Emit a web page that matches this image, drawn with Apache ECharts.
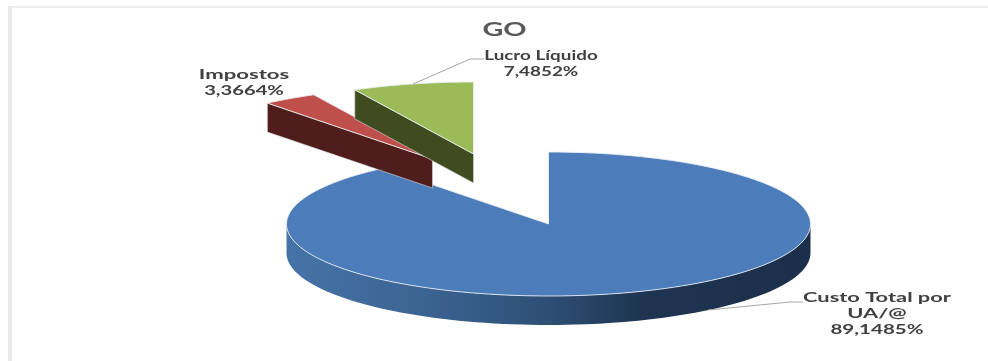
<!DOCTYPE html>
<html>
<head>
<meta charset="utf-8">
<style>html,body{margin:0;padding:0;background:#fff}#chart{width:988px;height:361px}</style>
<script src="https://cdn.jsdelivr.net/npm/echarts@6/dist/echarts.min.js"></script>
</head>
<body>
<div id="chart"></div>
<script>
// Cost breakdown for GO, in percent
const sliceNames = ['Custo Total por UA/@', 'Impostos', 'Lucro Líquido'];
const sliceValues = [89.1485, 3.3664, 7.4852];
const sliceLabels = ['89,1485%', '3,3664%', '7,4852%'];
const chartTitle = 'GO';

// Disc geometry: centre of the top face, ellipse radii and wall height
const disc = { cx: 548.5, cy: 224, rx: 262, ry: 72, depth: 29 };

// Per-slice look: how far each slice is pulled from the disc, face and wall colours
const sliceStyle = [
  { dx: 0, dy: 0, top: '#4c7dba' },
  { dx: -116, dy: -65, top: '#bf4f4b', wall: '#4f1e1c' },
  { dx: -75, dy: -70, top: '#9bbb59', wall: '#3e4c20' }
];

// Label blocks: text centre, horizontal stretch of name and value, optional leader line
const labelStyle = [
  { x: 877, y: 298, lines: ['Custo Total por', 'UA/@'], nameStretch: 1.68, valueStretch: 1.58,
    leader: [[708, 310], [790, 302], [803, 302]] },
  { x: 244, y: 75, lines: ['Impostos'], nameStretch: 1.7, valueStretch: 1.55 },
  { x: 541, y: 56, lines: ['Lucro Líquido'], nameStretch: 1.45, valueStretch: 1.45,
    leader: [[413, 84], [470, 59], [484, 59]] }
];

const total = sliceValues.reduce((a, b) => a + b, 0);
const rad = d => d * Math.PI / 180;

// Point on the top-face ellipse, angle clockwise from twelve o'clock
function rim(c, deg) {
  return [c.x + disc.rx * Math.sin(rad(deg)), c.y - disc.ry * Math.cos(rad(deg))];
}
function arc(c, from, to) {
  const pts = [];
  const n = Math.max(2, Math.ceil(Math.abs(to - from) / 2));
  for (let i = 0; i <= n; i++) pts.push(rim(c, from + (to - from) * i / n));
  return pts;
}
function drop(pts) {
  return pts.map(p => [p[0], p[1] + disc.depth]);
}

function label(text, x, y, size, weight, color, stretch) {
  return {
    type: 'text', x, y, scaleX: stretch, scaleY: 1,
    style: { text, fontFamily: 'Lato', fontSize: size, fontWeight: weight, fill: color,
      align: 'center', verticalAlign: 'middle' }
  };
}

function renderSlice(params, api) {
  const i = params.dataIndex;
  const st = sliceStyle[i];
  const before = sliceValues.slice(0, i).reduce((a, b) => a + b, 0);
  const start = before / total * 360;
  const end = start + api.value(0) / total * 360;
  const c = { x: disc.cx + st.dx, y: disc.cy + st.dy };
  const children = [];

  if (i === 0) {
    // Front wall of the large slice follows the lower half of the ellipse
    const front = arc(c, 90, 270);
    children.push({
      type: 'polygon',
      shape: { points: front.concat(drop(front).reverse()) },
      style: {
        fill: new echarts.graphic.LinearGradient(0, 0, 1, 0, [
          { offset: 0, color: '#4673a8' },
          { offset: 0.25, color: '#3c6493' },
          { offset: 0.5, color: '#2d4f75' },
          { offset: 0.68, color: '#1e3450' },
          { offset: 1, color: '#1c2f4a' }
        ])
      }
    });
  } else {
    // Pulled slices show the flat wall along their leading edge
    const edge = [[c.x, c.y], rim(c, start)];
    children.push({
      type: 'polygon',
      shape: { points: edge.concat(drop(edge).reverse()) },
      style: { fill: st.wall, stroke: '#d9d9d9', lineWidth: 0.6 }
    });
  }

  children.push({
    type: 'polygon',
    shape: { points: [[c.x, c.y]].concat(arc(c, start, end)) },
    style: { fill: st.top, stroke: 'rgba(235,240,245,0.85)', lineWidth: 1 }
  });

  const lb = labelStyle[i];
  if (lb.leader) {
    children.push({
      type: 'polyline',
      shape: { points: lb.leader },
      style: { fill: null, stroke: '#a6a6a6', lineWidth: 1 }
    });
  }
  lb.lines.forEach((t, n) => {
    children.push(label(t, lb.x, lb.y + n * 16, 13, 700, '#404040', lb.nameStretch));
  });
  children.push(label(sliceLabels[i], lb.x, lb.y + lb.lines.length * 16, 13, 700, '#404040', lb.valueStretch));
  return { type: 'group', children };
}

const chart = echarts.init(document.getElementById('chart'), null, { renderer: 'canvas' });
chart.setOption({
  animation: false,
  backgroundColor: '#ffffff',
  graphic: [
    { type: 'rect', shape: { x: 8, y: 6, width: 980, height: 2 }, style: { fill: '#efefef' } },
    { type: 'rect', shape: { x: 8, y: 6, width: 4, height: 355 }, style: { fill: '#e9e9e9' } },
    {
      type: 'text', x: 504.5, y: 30.5, scaleX: 1.6,
      style: { text: chartTitle, fontFamily: 'Lato', fontSize: 18, fontWeight: 700, fill: '#595959',
        align: 'center', verticalAlign: 'middle' }
    }
  ],
  series: [{
    type: 'custom',
    coordinateSystem: 'none',
    renderItem: renderSlice,
    data: sliceValues.map((v, i) => ({ name: sliceNames[i], value: [v] }))
  }]
});
</script>
</body>
</html>
